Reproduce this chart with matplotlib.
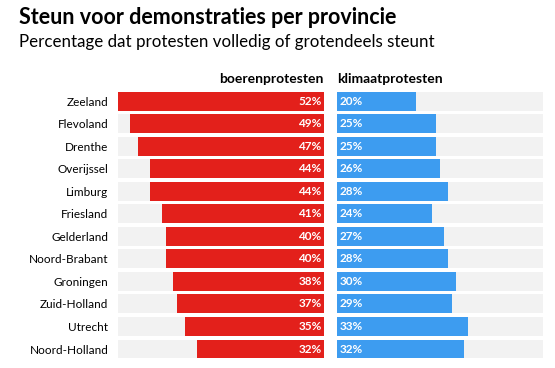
import matplotlib

matplotlib.use("Agg")
import matplotlib.pyplot as plt
import numpy as np

provinces = ["Zeeland", "Flevoland", "Drenthe", "Overijssel", "Limburg", "Friesland",
             "Gelderland", "Noord-Brabant", "Groningen", "Zuid-Holland", "Utrecht",
             "Noord-Holland"]
boeren = [52, 49, 47, 44, 44, 41, 40, 40, 38, 37, 35, 32]
klimaat = [20, 25, 25, 26, 28, 24, 27, 28, 30, 29, 33, 32]
scale_max = 52

RED = "#e3201b"
BLUE = "#3d9cf0"
GREY = "#f2f2f2"
plt.rcParams["font.family"] = ["Lato", "DejaVu Sans"]

fig = plt.figure(figsize=(5.55, 3.68), dpi=100)
y = np.arange(len(provinces))
h = 0.84

ax1 = fig.add_axes([118 / 555, 0.021, 206 / 555, 0.735])
ax2 = fig.add_axes([337 / 555, 0.021, 206 / 555, 0.735])

ax1.barh(y, [scale_max] * len(y), height=h, color=GREY)
ax1.barh(y, boeren, height=h, color=RED)
ax1.set_xlim(scale_max, 0)
for yi, v in zip(y, boeren):
    ax1.text(0.6, yi, f"{v}%", ha="right", va="center", color="white",
             fontsize=8.5, fontweight="bold")

ax2.barh(y, [scale_max] * len(y), height=h, color=GREY)
ax2.barh(y, klimaat, height=h, color=BLUE)
ax2.set_xlim(0, scale_max)
for yi, v in zip(y, klimaat):
    ax2.text(0.6, yi, f"{v}%", ha="left", va="center", color="white",
             fontsize=8.5, fontweight="bold")

for ax in (ax1, ax2):
    ax.set_ylim(len(y) - 0.5, -0.5)
    ax.set_xticks([])
    ax.set_yticks([])
    for s in ax.spines.values():
        s.set_visible(False)

ax1.set_yticks(y)
ax1.set_yticklabels(provinces, fontsize=8.5)
ax1.tick_params(axis="y", length=0, pad=7)

ax1.text(0.2, -0.98, "boerenprotesten", ha="right", va="center", fontsize=10,
         fontweight="bold")
ax2.text(0, -0.98, "klimaatprotesten", ha="left", va="center", fontsize=10,
         fontweight="bold")

fig.text(19 / 555, 1 - 17 / 368, "Steun voor demonstraties per provincie",
         ha="left", va="center", fontsize=15.5, fontweight="bold")
fig.text(19 / 555, 1 - 42 / 368, "Percentage dat protesten volledig of grotendeels steunt",
         ha="left", va="center", fontsize=12.2)

fig.savefig("out.png", dpi=100)
